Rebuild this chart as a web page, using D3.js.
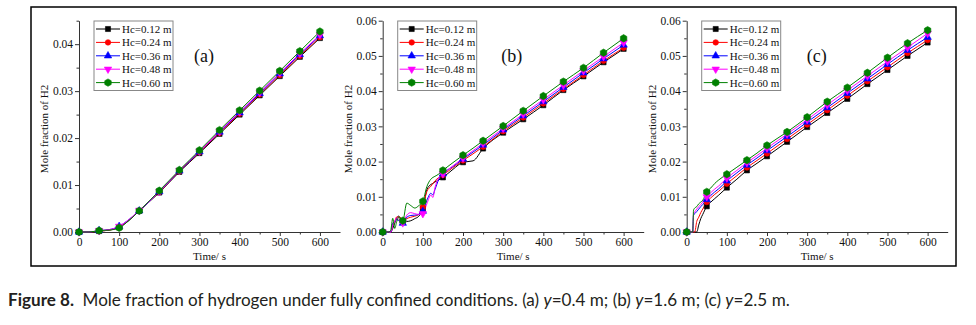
<!DOCTYPE html>
<html>
<head>
<meta charset="utf-8">
<script src="https://cdn.jsdelivr.net/npm/d3@7"></script>
<style>
  html, body { margin: 0; padding: 0; background: #fff; }
  svg { display: block; }
</style>
</head>
<body>
<svg id="chart" width="976" height="325"></svg>
<script>
// ---------------- DATA ----------------
const seriesNames = ["Hc=0.12 m", "Hc=0.24 m", "Hc=0.36 m", "Hc=0.48 m", "Hc=0.60 m"];
const panelLabels = ["(a)", "(b)", "(c)"];
const xTickValues = [0, 100, 200, 300, 400, 500, 600];
const yTicksA = [0, 0.01, 0.02, 0.03, 0.04];
const yTicksBC = [0, 0.01, 0.02, 0.03, 0.04, 0.05, 0.06];

// Panel (a) y=0.4 m
const timeA = [0, 25, 50, 75, 100, 125, 150, 200, 250, 300, 350, 400, 450, 500, 550, 600];
const a012 = [0, 0, 0.0002, 0.0004, 0.0010, 0.0025, 0.0045, 0.0084, 0.0128, 0.0168, 0.0209, 0.0250, 0.0291, 0.0332, 0.0373, 0.0413];
const a024 = [0, 0, 0.0002, 0.0004, 0.0011, 0.0026, 0.0045, 0.0085, 0.0129, 0.0170, 0.0211, 0.0252, 0.0293, 0.0334, 0.0375, 0.0415];
const a036 = [0, 0, 0.0003, 0.0005, 0.0012, 0.0027, 0.0045, 0.0086, 0.0130, 0.0171, 0.0213, 0.0254, 0.0295, 0.0337, 0.0378, 0.0418];
const a048 = [0, 0, 0.0003, 0.0005, 0.0012, 0.0027, 0.0046, 0.0086, 0.0131, 0.0172, 0.0214, 0.0256, 0.0297, 0.0339, 0.0380, 0.0420];
const a060 = [0, 0, 0.0003, 0.0004, 0.0009, 0.0025, 0.0045, 0.0088, 0.0132, 0.0174, 0.0217, 0.0259, 0.0301, 0.0343, 0.0385, 0.0427];

// Panel (b) y=1.6 m
const timeB = [0, 15, 20, 25, 30, 35, 40, 45, 50, 60, 70, 80, 90, 100, 110, 120, 125, 130, 140, 150, 175, 200, 225, 250, 300, 350, 400, 450, 500, 550, 600];
const b012 = [0, 0, 0, 0.0010, 0.0025, 0.0040, 0.0045, 0.0038, 0.0030, 0.0030, 0.0032, 0.0038, 0.0045, 0.0066, 0.0120, 0.0135, 0.0138, 0.0142, 0.0148, 0.0155, 0.0178, 0.0198, 0.0202, 0.0237, 0.0282, 0.0320, 0.0360, 0.0403, 0.0442, 0.0482, 0.0520];
const b024 = [0, 0, 0, 0.0020, 0.0030, 0.0043, 0.0042, 0.0040, 0.0030, 0.0038, 0.0042, 0.0045, 0.0050, 0.0071, 0.0115, 0.0130, 0.0138, 0.0145, 0.0155, 0.0162, 0.0183, 0.0203, 0.0222, 0.0242, 0.0286, 0.0325, 0.0365, 0.0406, 0.0446, 0.0486, 0.0523];
const b036 = [0, 0, 0, 0.0025, 0.0030, 0.0035, 0.0032, 0.0028, 0.0025, 0.0042, 0.0047, 0.0048, 0.0050, 0.0059, 0.0090, 0.0110, 0.0105, 0.0120, 0.0150, 0.0165, 0.0186, 0.0207, 0.0227, 0.0247, 0.0290, 0.0330, 0.0370, 0.0411, 0.0452, 0.0492, 0.0531];
const b048 = [0, 0, 0, 0.0020, 0.0030, 0.0040, 0.0036, 0.0030, 0.0026, 0.0048, 0.0055, 0.0052, 0.0050, 0.0052, 0.0080, 0.0105, 0.0098, 0.0125, 0.0155, 0.0165, 0.0188, 0.0210, 0.0231, 0.0252, 0.0294, 0.0335, 0.0376, 0.0417, 0.0458, 0.0498, 0.0538];
const b060 = [0, 0, 0.0005, 0.0039, 0.0010, 0.0030, 0.0042, 0.0036, 0.0032, 0.0082, 0.0075, 0.0068, 0.0075, 0.0087, 0.0129, 0.0150, 0.0155, 0.0158, 0.0165, 0.0175, 0.0197, 0.0218, 0.0238, 0.0259, 0.0301, 0.0344, 0.0386, 0.0427, 0.0466, 0.0509, 0.0550];

// Panel (c) y=2.5 m
const timeC = [0, 15, 17, 20, 25, 30, 35, 40, 50, 60, 70, 80, 100, 125, 150, 175, 200, 250, 300, 350, 400, 450, 500, 550, 600];
const c012 = [0, 0, 0, 0, 0, 0.0020, 0.0038, 0.0050, 0.0073, 0.0085, 0.0095, 0.0105, 0.0126, 0.0150, 0.0175, 0.0195, 0.0215, 0.0256, 0.0298, 0.0338, 0.0378, 0.0420, 0.0460, 0.0500, 0.0538];
const c024 = [0, 0, 0, 0, 0.0030, 0.0042, 0.0055, 0.0065, 0.0085, 0.0097, 0.0107, 0.0116, 0.0137, 0.0160, 0.0183, 0.0203, 0.0223, 0.0264, 0.0305, 0.0346, 0.0387, 0.0428, 0.0468, 0.0508, 0.0545];
const c036 = [0, 0, 0.0048, 0.0052, 0.0058, 0.0065, 0.0072, 0.0078, 0.0092, 0.0104, 0.0114, 0.0123, 0.0145, 0.0168, 0.0190, 0.0210, 0.0231, 0.0271, 0.0312, 0.0353, 0.0394, 0.0435, 0.0476, 0.0516, 0.0553];
const c048 = [0, 0, 0.0050, 0.0057, 0.0065, 0.0072, 0.0078, 0.0085, 0.0100, 0.0112, 0.0122, 0.0131, 0.0153, 0.0175, 0.0197, 0.0217, 0.0238, 0.0278, 0.0319, 0.0361, 0.0402, 0.0443, 0.0484, 0.0524, 0.0564];
const c060 = [0, 0, 0.0062, 0.0068, 0.0072, 0.0080, 0.0085, 0.0090, 0.0114, 0.0125, 0.0138, 0.0148, 0.0164, 0.0184, 0.0204, 0.0224, 0.0246, 0.0284, 0.0326, 0.0370, 0.0410, 0.0452, 0.0495, 0.0536, 0.0573];

const captionBold = "Figure 8.";
const captionParts = [
  ["Mole fraction of hydrogen under fully confined conditions. (a) ", false],
  ["y", true], ["=0.4 m; (b) ", false],
  ["y", true], ["=1.6 m; (c) ", false],
  ["y", true], ["=2.5 m.", false]
];

// ---------------- STYLE / LAYOUT ----------------
const colors = ["#000000", "#ff0000", "#0000ff", "#ff00ff", "#008000"];
const serif = "'Liberation Serif', 'Times New Roman', serif";
const panels = [
  { x0: 79,    yMax: 0.045, yTicks: yTicksA,  time: timeA, series: [a012, a024, a036, a048, a060], labelDx: 125 },
  { x0: 382.7, yMax: 0.06,  yTicks: yTicksBC, time: timeB, series: [b012, b024, b036, b048, b060], labelDx: 129 },
  { x0: 686.7, yMax: 0.06,  yTicks: yTicksBC, time: timeC, series: [c012, c024, c036, c048, c060], labelDx: 130 }
];
const yBottom = 232, yTop = 20.7, xWidth = 261;

const svg = d3.select("#chart");

// outer frame
svg.append("rect").attr("x", 31).attr("y", 7).attr("width", 925).attr("height", 259)
  .attr("fill", "none").attr("stroke", "#000").attr("stroke-width", 1.5);

// marker drawing
const hexagon = {
  draw(ctx, size) {
    const r = Math.sqrt(size / 2.598);
    for (let i = 0; i < 6; i++) {
      const ang = Math.PI / 2 + i * Math.PI / 3;
      const px = r * Math.cos(ang), py = r * Math.sin(ang);
      if (i === 0) ctx.moveTo(px, py); else ctx.lineTo(px, py);
    }
    ctx.closePath();
  }
};
const symbolDefs = [
  { type: d3.symbolSquare, size: 26, rot: 0 },
  { type: d3.symbolCircle, size: 24, rot: 0 },
  { type: d3.symbolTriangle, size: 24, rot: 0 },
  { type: d3.symbolTriangle, size: 24, rot: 180 },
  { type: hexagon, size: 36, rot: 0 }
];
function drawMarker(g, i, x, y) {
  const s = symbolDefs[i];
  g.append("path")
    .attr("d", d3.symbol().type(s.type).size(s.size)())
    .attr("transform", `translate(${x},${y}) rotate(${s.rot})`)
    .attr("fill", colors[i]).attr("stroke", colors[i]).attr("stroke-width", 0.6);
}

panels.forEach((p, pi) => {
  const x = d3.scaleLinear().domain([0, 650]).range([p.x0, p.x0 + xWidth]);
  const y = d3.scaleLinear().domain([0, p.yMax]).range([yBottom, yTop]);
  const g = svg.append("g");

  // minor ticks
  const xMinor = d3.range(50, 650, 100);
  const yMinor = d3.range(0.005, p.yMax + 1e-9, 0.01);
  g.append("g").attr("transform", `translate(0,${yBottom})`)
    .call(d3.axisBottom(x).tickValues(xMinor).tickSize(2.5).tickFormat(""))
    .call(a => a.select(".domain").remove());
  g.append("g").attr("transform", `translate(${p.x0},0)`)
    .call(d3.axisLeft(y).tickValues(yMinor).tickSize(2.5).tickFormat(""))
    .call(a => a.select(".domain").remove());

  // major axes
  const xa = g.append("g").attr("transform", `translate(0,${yBottom})`)
    .call(d3.axisBottom(x).tickValues(xTickValues).tickSize(4).tickSizeOuter(0).tickPadding(1.5).tickFormat(d3.format("d")));
  const ya = g.append("g").attr("transform", `translate(${p.x0},0)`)
    .call(d3.axisLeft(y).tickValues(p.yTicks).tickSize(4).tickSizeOuter(0).tickPadding(2).tickFormat(d3.format(".2f")));
  [xa, ya].forEach(a => {
    a.selectAll("text").attr("font-family", serif).attr("font-size", 11.5).attr("fill", "#111");
  });
  g.selectAll(".domain, .tick line").attr("stroke", "#333").attr("stroke-width", 1);

  // axis titles
  g.append("text").attr("x", p.x0 + xWidth / 2).attr("y", 260)
    .attr("text-anchor", "middle").attr("font-family", serif).attr("font-size", 11)
    .attr("fill", "#111").text("Time/ s");
  g.append("text").attr("transform", `translate(${p.x0 - 31},129) rotate(-90)`)
    .attr("text-anchor", "middle").attr("font-family", serif).attr("font-size", 11)
    .attr("fill", "#111").text("Mole fraction of H2");

  // lines
  const line = d3.line().x(d => x(d[0])).y(d => y(d[1])).curve(d3.curveMonotoneX);
  p.series.forEach((vals, si) => {
    const pts = p.time.map((t, k) => [t, vals[k]]);
    g.append("path").datum(pts).attr("d", line)
      .attr("fill", "none").attr("stroke", colors[si]).attr("stroke-width", 1);
  });
  // markers every 50 s
  p.series.forEach((vals, si) => {
    p.time.forEach((t, k) => {
      if (t % 50 === 0) drawMarker(g, si, x(t), y(vals[k]));
    });
  });

  // legend
  const lx = p.x0 + 15, ly = 21;
  g.append("rect").attr("x", lx).attr("y", ly).attr("width", 79).attr("height", 69.5)
    .attr("fill", "#fff").attr("stroke", "#888").attr("stroke-width", 1);
  seriesNames.forEach((name, si) => {
    const ry = ly + 8 + si * 13.4;
    g.append("line").attr("x1", lx + 2).attr("x2", lx + 26).attr("y1", ry).attr("y2", ry)
      .attr("stroke", colors[si]).attr("stroke-width", 1);
    drawMarker(g, si, lx + 14, ry);
    g.append("text").attr("x", lx + 28).attr("y", ry + 4)
      .attr("font-family", serif).attr("font-size", 11).attr("fill", "#111").text(name);
  });

  // panel label
  g.append("text").attr("x", p.x0 + p.labelDx).attr("y", 62)
    .attr("text-anchor", "middle").attr("font-family", serif).attr("font-size", 18)
    .attr("fill", "#111").text(panelLabels[pi]);
});

// caption
const cap = svg.append("text").attr("x", 8).attr("y", 306)
  .attr("font-family", "Lato, 'Open Sans', sans-serif").attr("font-size", 16.5).attr("fill", "#231f20");
cap.append("tspan").attr("font-weight", "bold").text(captionBold);
cap.append("tspan").text("\u2002");
captionParts.forEach(([t, it]) => {
  cap.append("tspan").attr("font-style", it ? "italic" : "normal").text(t);
});
// fit the caption to the reference width
const capLen = cap.node().getComputedTextLength();
const targetLen = 782;
if (Math.abs(capLen - targetLen) > 4) {
  cap.attr("font-size", 16.5 * targetLen / capLen);
}
</script>
</body>
</html>
